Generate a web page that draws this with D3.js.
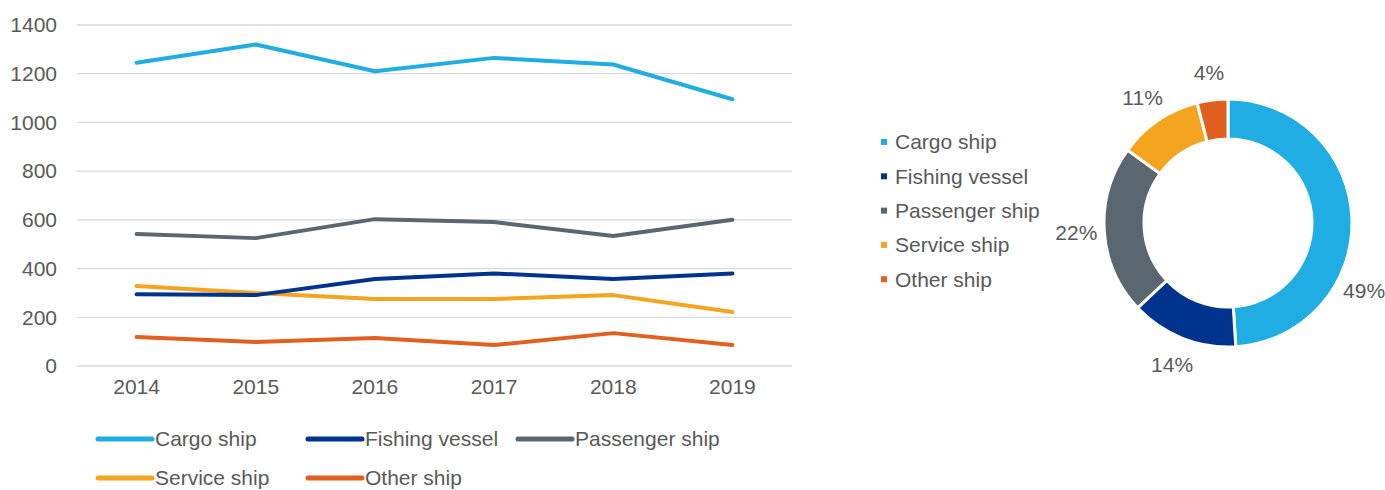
<!DOCTYPE html>
<html>
<head>
<meta charset="utf-8">
<script src="https://cdn.jsdelivr.net/npm/d3@7"></script>
<style>
  body { margin: 0; background: #fff; }
  svg { font-family: "Liberation Sans", Arial, sans-serif; }
</style>
</head>
<body>
<svg id="chart" width="1385" height="490"></svg>
<script>
var years = ["2014", "2015", "2016", "2017", "2018", "2019"];
var seriesNames = ["Cargo ship", "Fishing vessel", "Passenger ship", "Service ship", "Other ship"];
var cargo = [1245, 1320, 1210, 1265, 1238, 1095];
var fishing = [295, 291, 357, 380, 357, 380];
var passenger = [542, 525, 603, 591, 534, 600];
var service = [328, 300, 275, 275, 291, 222];
var other = [119, 99, 115, 86, 135, 86];
var shares = [49, 14, 22, 11, 4];
var yTicks = [0, 200, 400, 600, 800, 1000, 1200, 1400];

var colors = ["#1fade3", "#00338d", "#5a6670", "#f4a41f", "#e2601f"];
var textColor = "#595959";
var fontSize = 21;

var svg = d3.select("#chart");

// line chart
var plot = {l: 77, r: 792, t: 25, b: 366};
var x = d3.scaleBand().domain(years).range([plot.l, plot.r]);
var y = d3.scaleLinear().domain([0, 1400]).range([plot.b, plot.t]);

var grid = svg.append("g");
grid.selectAll("line").data(yTicks).enter().append("line")
  .attr("x1", plot.l).attr("x2", plot.r)
  .attr("y1", function(d){ return y(d); })
  .attr("y2", function(d){ return y(d); })
  .attr("stroke", "#d9d9d9")
  .attr("stroke-width", 1.3);

var yAxis = svg.append("g")
  .attr("transform", "translate(" + (plot.l - 20) + ",0)")
  .call(d3.axisLeft(y).tickValues(yTicks).tickFormat(d3.format("d")).tickSize(0).tickPadding(0));
yAxis.select(".domain").remove();
yAxis.selectAll("text")
  .attr("fill", textColor)
  .style("font-size", fontSize + "px")
  .style("font-family", "Liberation Sans, Arial, sans-serif");

var xAxis = svg.append("g")
  .attr("transform", "translate(0," + plot.b + ")")
  .call(d3.axisBottom(x).tickSize(0).tickPadding(13));
xAxis.select(".domain").remove();
xAxis.selectAll("text")
  .attr("fill", textColor)
  .style("font-size", fontSize + "px")
  .style("font-family", "Liberation Sans, Arial, sans-serif");

var allSeries = [cargo, fishing, passenger, service, other];
var line = d3.line()
  .x(function(d, i){ return x(years[i]) + x.bandwidth() / 2; })
  .y(function(d){ return y(d); });

// draw in z-order similar to the original (cargo on top)
var order = [4, 3, 2, 1, 0];
svg.append("g").selectAll("path").data(order).enter().append("path")
  .attr("d", function(k){ return line(allSeries[k]); })
  .attr("fill", "none")
  .attr("stroke", function(k){ return colors[k]; })
  .attr("stroke-width", 4)
  .attr("stroke-linejoin", "round")
  .attr("stroke-linecap", "round");

// line legend
var legendPos = [
  {col: 0, row: 0}, {col: 1, row: 0}, {col: 2, row: 0},
  {col: 0, row: 1}, {col: 1, row: 1}
];
var colX = [98, 308, 518];
var rowY = [439, 478];
var lg = svg.append("g").selectAll("g").data(seriesNames).enter().append("g")
  .attr("transform", function(d, i){
    return "translate(" + colX[legendPos[i].col] + "," + rowY[legendPos[i].row] + ")";
  });
lg.append("line")
  .attr("x1", 0).attr("x2", 54)
  .attr("y1", 0).attr("y2", 0)
  .attr("stroke", function(d, i){ return colors[i]; })
  .attr("stroke-width", 5)
  .attr("stroke-linecap", "round");
lg.append("text")
  .attr("x", 57)
  .attr("dy", "0.35em")
  .attr("fill", textColor)
  .style("font-size", fontSize + "px")
  .text(function(d){ return d; });

// donut
var cx = 1228, cy = 223, outerR = 124, innerR = 84;
var pie = d3.pie().sort(null).value(function(d){ return d; });
var arcs = pie(shares);
var arc = d3.arc().innerRadius(innerR).outerRadius(outerR);

var donut = svg.append("g").attr("transform", "translate(" + cx + "," + cy + ")");
donut.selectAll("path").data(arcs).enter().append("path")
  .attr("d", arc)
  .attr("fill", function(d, i){ return colors[i]; })
  .attr("stroke", "#fff")
  .attr("stroke-width", 3);

// label position along each slice (fraction of its span)
var labelFrac = [0.66, 0.5, 0.5, 0.5, 0.5];
var labelR = 152;
donut.selectAll("text").data(arcs).enter().append("text")
  .attr("x", function(d, i){
    var a = d.startAngle + (d.endAngle - d.startAngle) * labelFrac[i];
    return Math.sin(a) * labelR;
  })
  .attr("y", function(d, i){
    var a = d.startAngle + (d.endAngle - d.startAngle) * labelFrac[i];
    return -Math.cos(a) * labelR;
  })
  .attr("text-anchor", "middle")
  .attr("dy", "0.35em")
  .attr("fill", textColor)
  .style("font-size", fontSize + "px")
  .text(function(d){ return d.data + "%"; });

// donut legend
var dl = svg.append("g").selectAll("g").data(seriesNames).enter().append("g")
  .attr("transform", function(d, i){ return "translate(881," + (142 + i * 34.3) + ")"; });
dl.append("rect")
  .attr("x", 0).attr("y", -3)
  .attr("width", 6).attr("height", 6)
  .attr("fill", function(d, i){ return colors[i]; });
dl.append("text")
  .attr("x", 14)
  .attr("dy", "0.35em")
  .attr("fill", textColor)
  .style("font-size", fontSize + "px")
  .text(function(d){ return d; });
</script>
</body>
</html>
